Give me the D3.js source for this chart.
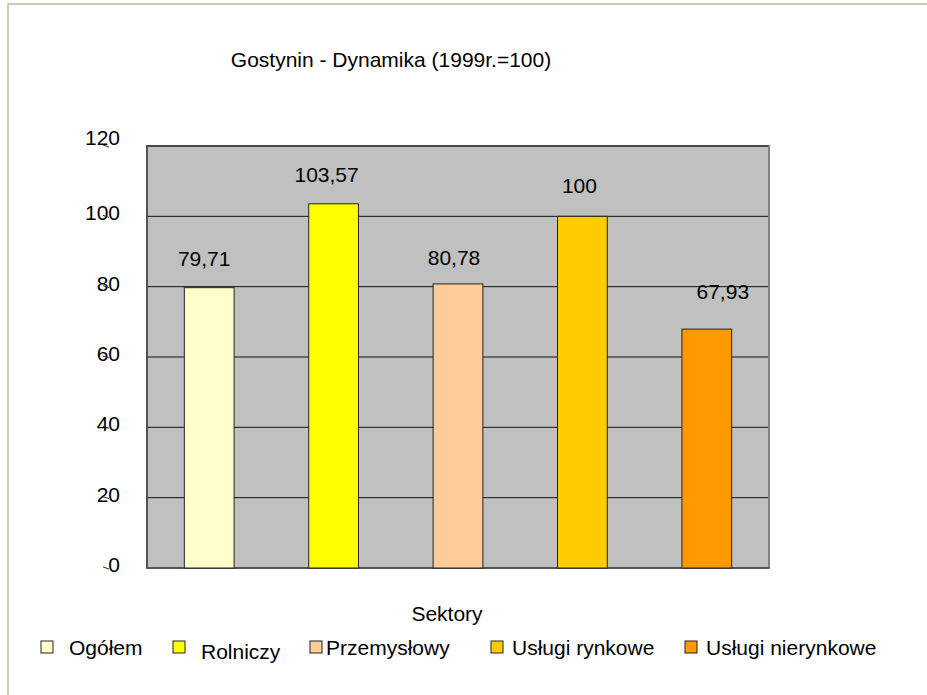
<!DOCTYPE html>
<html>
<head>
<meta charset="utf-8">
<script src="https://cdnjs.cloudflare.com/ajax/libs/d3/7.8.5/d3.min.js"></script>
<style>
  html, body { margin: 0; padding: 0; background: #fff; }
  svg { display: block; font-family: "Liberation Sans", Arial, sans-serif; }
</style>
</head>
<body>
<script>
// data
var categories = ["Ogółem", "Rolniczy", "Przemysłowy", "Usługi rynkowe", "Usługi nierynkowe"];
var values = [79.71, 103.57, 80.78, 100, 67.93];
var valueLabels = ["79,71", "103,57", "80,78", "100", "67,93"];
var colors = ["#FFFFCC", "#FFFF00", "#FFCC99", "#FFCC00", "#FF9900"];
var yTicks = [0, 20, 40, 60, 80, 100, 120];
var title = "Gostynin - Dynamika (1999r.=100)";
var xTitle = "Sektory";

var width = 927, height = 695;
var plotLeft = 147, plotRight = 769, plotTop = 146, plotBottom = 568;
var fontSize = "21px";
var textColor = "#000";

var svg = d3.select("body").append("svg")
    .attr("width", width)
    .attr("height", height);

// outer frame (only top and left edges visible)
svg.append("rect")
    .attr("x", 8).attr("y", 4)
    .attr("width", 1000).attr("height", 1000)
    .attr("fill", "none")
    .attr("stroke", "#C4BB99")
    .attr("stroke-width", 1.5);

var x = d3.scaleBand()
    .domain(categories)
    .range([plotLeft, plotRight])
    .paddingInner(0.6)
    .paddingOuter(0.3);

var y = d3.scaleLinear()
    .domain([0, 120])
    .range([plotBottom, plotTop]);

// plot area
svg.append("rect")
    .attr("x", plotLeft).attr("y", plotTop)
    .attr("width", plotRight - plotLeft).attr("height", plotBottom - plotTop)
    .attr("fill", "#C0C0C0")
    .attr("stroke", "#808080")
    .attr("stroke-width", 2);

svg.selectAll("line.grid")
    .data(yTicks.filter(d => d > 0))
    .enter().append("line")
    .attr("class", "grid")
    .attr("x1", plotLeft).attr("x2", plotRight - 1)
    .attr("y1", d => y(d)).attr("y2", d => y(d))
    .attr("stroke", "#111")
    .attr("stroke-width", 1);

// axis lines
svg.append("line")
    .attr("x1", plotLeft).attr("x2", plotRight)
    .attr("y1", y(0)).attr("y2", y(0))
    .attr("stroke", "#555").attr("stroke-width", 2);
svg.append("line")
    .attr("x1", plotLeft).attr("x2", plotLeft)
    .attr("y1", plotTop).attr("y2", plotBottom)
    .attr("stroke", "#444").attr("stroke-width", 1.5);

// bars
svg.selectAll("rect.bar")
    .data(values)
    .enter().append("rect")
    .attr("class", "bar")
    .attr("x", (d, i) => x(categories[i]))
    .attr("y", d => y(d))
    .attr("width", x.bandwidth())
    .attr("height", d => y(0) - y(d))
    .attr("fill", (d, i) => colors[i])
    .attr("stroke", "#222")
    .attr("stroke-width", 1);

// value labels - excel puts them a bit off centre
var labelDx = [-5, -7, -4, -3, 16];
var labelDy = [-22, -22, -19, -23, -30];
svg.selectAll("text.val")
    .data(values)
    .enter().append("text")
    .attr("class", "val")
    .attr("x", (d, i) => x(categories[i]) + x.bandwidth() / 2 + labelDx[i])
    .attr("y", (d, i) => y(d) + labelDy[i])
    .attr("text-anchor", "middle")
    .attr("font-size", fontSize)
    .attr("fill", textColor)
    .text((d, i) => valueLabels[i]);

// y tick labels with the small stray tick marks
var yAxis = svg.append("g");
yAxis.selectAll("text")
    .data(yTicks)
    .enter().append("text")
    .attr("x", 120)
    .attr("y", d => y(d) + (d === 120 ? -1 : 4))
    .attr("text-anchor", "end")
    .attr("font-size", fontSize)
    .attr("fill", textColor)
    .text(d => d);
yAxis.selectAll("line")
    .data(yTicks)
    .enter().append("line")
    .attr("x1", 103).attr("x2", 109)
    .attr("y1", d => y(d) - 1).attr("y2", d => y(d) + 1)
    .attr("stroke", "#333")
    .attr("stroke-width", 1);

// title
svg.append("text")
    .attr("x", 391).attr("y", 67)
    .attr("text-anchor", "middle")
    .attr("font-size", fontSize)
    .attr("fill", textColor)
    .text(title);

// x axis title
svg.append("text")
    .attr("x", 447).attr("y", 621)
    .attr("text-anchor", "middle")
    .attr("font-size", fontSize)
    .attr("fill", textColor)
    .text(xTitle);

// legend
var legendBoxX = [41, 173, 310, 491, 685];
var legendTextX = [69, 201, 326, 512, 706];
var legendTextY = [655, 659, 655, 655, 655];
var legend = svg.append("g");
legend.selectAll("rect")
    .data(categories)
    .enter().append("rect")
    .attr("x", (d, i) => legendBoxX[i])
    .attr("y", 641)
    .attr("width", 12).attr("height", 12)
    .attr("fill", (d, i) => colors[i])
    .attr("stroke", "#222")
    .attr("stroke-width", 1);
legend.selectAll("text")
    .data(categories)
    .enter().append("text")
    .attr("x", (d, i) => legendTextX[i])
    .attr("y", (d, i) => legendTextY[i])
    .attr("font-size", fontSize)
    .attr("fill", textColor)
    .text(d => d);
</script>
</body>
</html>
